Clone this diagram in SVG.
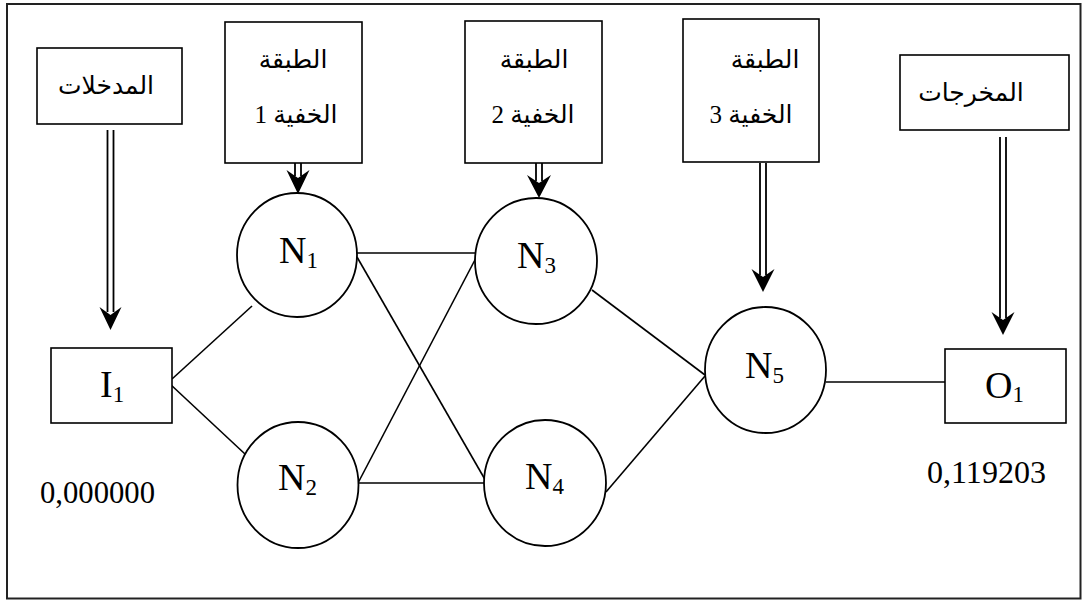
<svg xmlns="http://www.w3.org/2000/svg" width="1083" height="601" viewBox="0 0 1083 601">
  <style>
    .frame { fill: #ffffff; stroke: #222; stroke-width: 2; }
    .box { fill: #ffffff; stroke: #000; stroke-width: 1.6; }
    .node { fill: #ffffff; stroke: #000; stroke-width: 1.8; }
    .link { stroke: #000; stroke-width: 1.6; fill: none; }
    .shaft { stroke: #000; stroke-width: 1.8; fill: none; }
    .head { fill: #000; stroke: none; }
    .lbl { font-family: "Liberation Serif", "Times New Roman", serif; font-size: 38px; fill: #000; }
    .sub { font-size: 23px; }
    .ar { font-family: "Liberation Serif", "DejaVu Sans", sans-serif; font-size: 25px; fill: #000; direction: rtl; }
    .num { font-family: "Liberation Serif", "Times New Roman", serif; font-size: 32px; fill: #000; }
  </style>
  <rect x="0" y="0" width="1083" height="601" fill="#ffffff"/>
  <rect class="frame" x="7" y="4" width="1073.5" height="594.5"/>

  <g id="connectors">
    <line class="link" x1="172" y1="379" x2="252" y2="306"/>
    <line class="link" x1="170" y1="384" x2="245" y2="454"/>
    <line class="link" x1="357" y1="253" x2="476" y2="253"/>
    <line class="link" x1="357" y1="257" x2="487" y2="483"/>
    <line class="link" x1="358" y1="483" x2="477" y2="256"/>
    <line class="link" x1="359" y1="483" x2="487" y2="483"/>
    <line class="link" x1="592" y1="290" x2="705" y2="375"/>
    <line class="link" x1="606" y1="492" x2="705" y2="376"/>
    <line class="link" x1="826" y1="382" x2="945" y2="382"/>

    <g id="arrow-inputs">
      <line class="shaft" x1="107.5" y1="130" x2="107.5" y2="312"/>
      <line class="shaft" x1="113.5" y1="130" x2="113.5" y2="312"/>
      <path class="head" d="M110.5,330 L99.5,307 L110.5,315 L121.5,307 Z"/>
    </g>
    <g id="arrow-h1">
      <line class="shaft" x1="295" y1="163" x2="295" y2="176"/>
      <line class="shaft" x1="301" y1="163" x2="301" y2="176"/>
      <path class="head" d="M298,194 L286.5,170 L298,178 L309.5,170 Z"/>
    </g>
    <g id="arrow-h2">
      <line class="shaft" x1="536" y1="163" x2="536" y2="181"/>
      <line class="shaft" x1="542" y1="163" x2="542" y2="181"/>
      <path class="head" d="M539,198 L527,175 L539,183 L551,175 Z"/>
    </g>
    <g id="arrow-h3">
      <line class="shaft" x1="760" y1="163" x2="760" y2="275"/>
      <line class="shaft" x1="766" y1="163" x2="766" y2="275"/>
      <path class="head" d="M763,292 L751.5,269 L763,277 L774.5,269 Z"/>
    </g>
    <g id="arrow-outputs">
      <line class="shaft" x1="1000" y1="137" x2="1000" y2="318"/>
      <line class="shaft" x1="1006" y1="137" x2="1006" y2="318"/>
      <path class="head" d="M1003,335 L991.5,312 L1003,320 L1014.5,312 Z"/>
    </g>
  </g>

  <g id="label-inputs">
    <rect class="box" x="37" y="48" width="145" height="76"/>
    <text class="ar" x="106" y="94" text-anchor="middle">المدخلات</text>
  </g>
  <g id="label-hidden1">
    <rect class="box" x="225" y="22" width="137" height="141"/>
    <text class="ar" x="293" y="68" text-anchor="middle">الطبقة</text>
    <text class="ar" x="296" y="123" text-anchor="middle">الخفية 1</text>
  </g>
  <g id="label-hidden2">
    <rect class="box" x="465" y="21" width="137" height="142"/>
    <text class="ar" x="534" y="68" text-anchor="middle">الطبقة</text>
    <text class="ar" x="533" y="123" text-anchor="middle">الخفية 2</text>
  </g>
  <g id="label-hidden3">
    <rect class="box" x="683" y="19" width="136" height="143"/>
    <text class="ar" x="765" y="68" text-anchor="middle">الطبقة</text>
    <text class="ar" x="751" y="123" text-anchor="middle">الخفية 3</text>
  </g>
  <g id="label-outputs">
    <rect class="box" x="900" y="55" width="169" height="75"/>
    <text class="ar" x="971" y="101" text-anchor="middle">المخرجات</text>
  </g>

  <g id="I1">
    <rect class="box" x="51" y="348" width="121" height="75"/>
    <text class="lbl" x="100" y="397">I<tspan class="sub" dy="5">1</tspan></text>
  </g>
  <g id="N1">
    <ellipse class="node" cx="297" cy="255" rx="60" ry="62"/>
    <text class="lbl" x="279" y="263">N<tspan class="sub" dy="5">1</tspan></text>
  </g>
  <g id="N2">
    <ellipse class="node" cx="298" cy="485" rx="60.5" ry="63"/>
    <text class="lbl" x="278" y="490">N<tspan class="sub" dy="5">2</tspan></text>
  </g>
  <g id="N3">
    <ellipse class="node" cx="536" cy="261" rx="61" ry="63"/>
    <text class="lbl" x="517" y="268">N<tspan class="sub" dy="5">3</tspan></text>
  </g>
  <g id="N4">
    <ellipse class="node" cx="545" cy="483" rx="61" ry="63"/>
    <text class="lbl" x="525" y="489">N<tspan class="sub" dy="5">4</tspan></text>
  </g>
  <g id="N5">
    <ellipse class="node" cx="765.5" cy="370" rx="60.5" ry="63"/>
    <text class="lbl" x="745" y="378">N<tspan class="sub" dy="5">5</tspan></text>
  </g>
  <g id="O1">
    <rect class="box" x="945" y="349" width="121" height="74"/>
    <text class="lbl" x="985" y="398">O<tspan class="sub" dy="4">1</tspan></text>
  </g>

  <text class="num" x="40" y="503" textLength="115" lengthAdjust="spacingAndGlyphs">0,000000</text>
  <text class="num" x="927" y="483" textLength="119" lengthAdjust="spacingAndGlyphs">0,119203</text>
</svg>
